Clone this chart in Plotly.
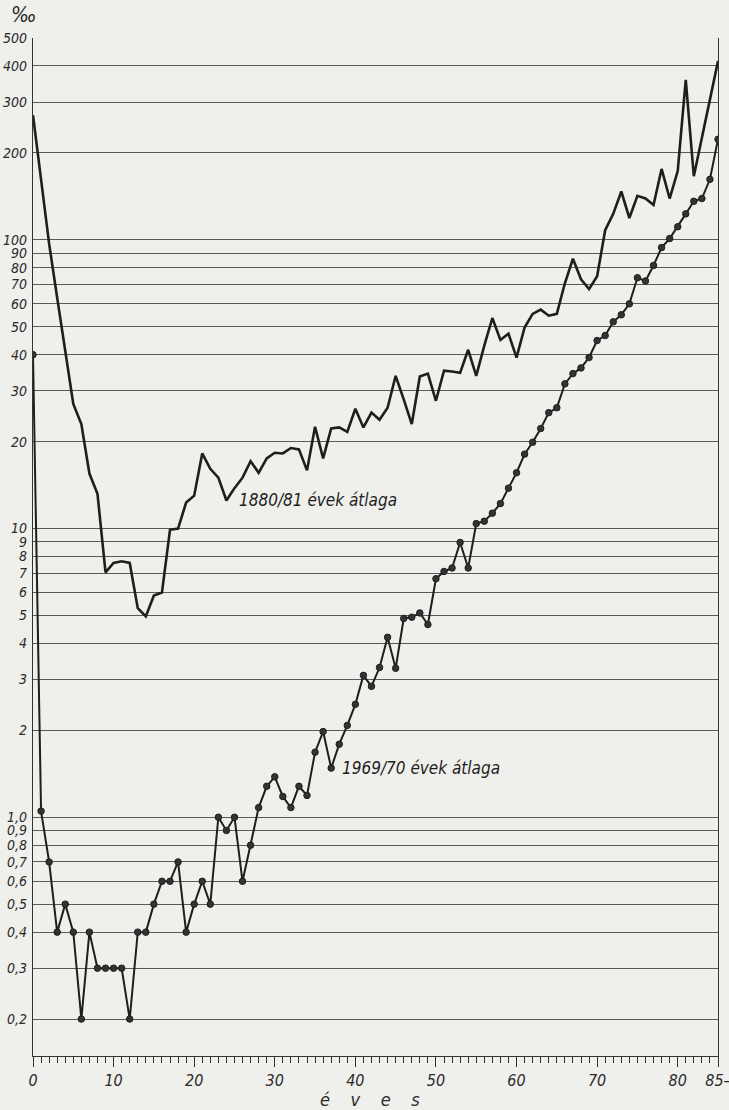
import plotly.graph_objects as go

years = list(range(0, 86))

rate_1880_81 = [270, 160, 97, 63, 42, 27, 23, 15.5, 13.2, 7.05,
                7.6, 7.7, 7.6, 5.3, 4.96, 5.86, 6.0, 9.9, 10.0, 12.3,
                13.0, 18.2, 16.1, 15.0, 12.5, 13.8, 15.0, 17.1, 15.6, 17.5,
                18.3, 18.2, 19.0, 18.8, 15.9, 22.5, 17.5, 22.2, 22.4, 21.6,
                26, 22.4, 25.2, 23.8, 26.2, 33.8, 28, 23, 33.6, 34.4,
                27.7, 35.2, 35, 34.6, 41.6, 33.8, 43, 53.6, 45, 47.3,
                39.1, 49.7, 55.4, 57.3, 54.6, 55.4, 70.7, 86, 73, 67.5,
                74.8, 108, 123, 147, 119, 142, 139, 132, 176, 139,
                173, 358, 166, 225, 306, 416]

rate_1969_70 = [40, 1.05, 0.7, 0.4, 0.5, 0.4, 0.2, 0.4, 0.3, 0.3,
                0.3, 0.3, 0.2, 0.4, 0.4, 0.5, 0.6, 0.6, 0.7, 0.4,
                0.5, 0.6, 0.5, 1.0, 0.9, 1.0, 0.6, 0.8, 1.08, 1.28,
                1.38, 1.18, 1.08, 1.28, 1.19, 1.68, 1.98, 1.48, 1.79, 2.08,
                2.46, 3.1, 2.84, 3.3, 4.2, 3.28, 4.88, 4.93, 5.1, 4.65,
                6.7, 7.1, 7.3, 8.95, 7.3, 10.4, 10.6, 11.3, 12.2, 13.8,
                15.6, 18.1, 19.9, 22.2, 25.2, 26.2, 31.7, 34.4, 36, 39.1,
                44.8, 46.6, 52, 55, 60, 73.9, 72, 81.5, 94, 101,
                111, 123, 136, 139, 162, 223]

y_tickvals = [0.2, 0.3, 0.4, 0.5, 0.6, 0.7, 0.8, 0.9, 1.0,
              2, 3, 4, 5, 6, 7, 8, 9, 10,
              20, 30, 40, 50, 60, 70, 80, 90, 100,
              200, 300, 400, 500]
y_ticktext = ["0,2", "0,3", "0,4", "0,5", "0,6", "0,7", "0,8", "0,9", "1,0",
              "2", "3", "4", "5", "6", "7", "8", "9", "10",
              "20", "30", "40", "50", "60", "70", "80", "90", "100",
              "200", "300", "400", "500"]

x_tickvals = [0, 10, 20, 30, 40, 50, 60, 70, 80, 85]
x_ticktext = ["0", "10", "20", "30", "40", "50", "60", "70", "80", "85–"]

label_1880 = "1880/81 évek átlaga"
label_1969 = "1969/70 évek átlaga"

FONT = "DejaVu Sans Condensed, Liberation Sans Narrow, DejaVu Sans, sans-serif"
INK = "#1e1e1e"
BG = "#efefeb"

fig = go.Figure()
fig.add_trace(go.Scatter(x=years, y=rate_1880_81, mode="lines",
                         line=dict(color=INK, width=2.6), name=label_1880,
                         showlegend=False))
fig.add_trace(go.Scatter(x=years, y=rate_1969_70, mode="lines+markers",
                         line=dict(color=INK, width=2.0),
                         marker=dict(size=6.5, color="#333333",
                                     line=dict(color=INK, width=1)),
                         name=label_1969, showlegend=False))

fig.update_layout(
    width=729, height=1110,
    margin=dict(l=33, r=11, t=38, b=54),
    paper_bgcolor=BG, plot_bgcolor=BG,
    font=dict(family=FONT, color="#2a2a2a"),
)

fig.update_xaxes(
    range=[0, 85], tickvals=x_tickvals, ticktext=x_ticktext,
    showgrid=False, zeroline=False, automargin=False,
    ticklabeloverflow="allow",
    showline=True, linecolor="#333", linewidth=1.2,
    ticks="outside", ticklen=10, tickwidth=1, tickcolor="#333",
    tickfont=dict(size=16, style="italic", family=FONT),
    minor=dict(dtick=1, ticks="outside", ticklen=6, tickcolor="#333", showgrid=False),
)
fig.update_yaxes(
    type="log", range=[-0.827, 2.699],
    tickvals=y_tickvals, ticktext=y_ticktext,
    showgrid=True, gridcolor="#5a5a5a", gridwidth=1, automargin=False,
    showline=True, linecolor="#333", linewidth=1.2, mirror=True,
    ticks="", ticklabelstandoff=2,
    tickfont=dict(size=14, style="italic", family=FONT),
)

fig.add_annotation(x=25.3, y=1.1, xref="x", yref="y", text=label_1880,
                   showarrow=False, xanchor="left", yanchor="middle",
                   font=dict(size=17, style="italic", family=FONT, color=INK))
fig.add_annotation(x=38.1, y=0.17, xref="x", yref="y", text=label_1969,
                   showarrow=False, xanchor="left", yanchor="middle",
                   font=dict(size=17, style="italic", family=FONT, color=INK))
fig.add_annotation(x=-0.013, y=1.036, xref="paper", yref="paper", text="‰",
                   showarrow=False, xanchor="center", yanchor="top",
                   font=dict(size=21, style="italic", family=FONT, color="#2a2a2a"))
fig.add_annotation(x=0.492, y=-0.043, xref="paper", yref="paper",
                   text="é    v    e    s",
                   showarrow=False, xanchor="center", yanchor="middle",
                   font=dict(size=18, style="italic", family=FONT, color="#2a2a2a"))

fig.write_html("out.html", config={"displayModeBar": False},
               post_script="document.body.style.margin='0';")
